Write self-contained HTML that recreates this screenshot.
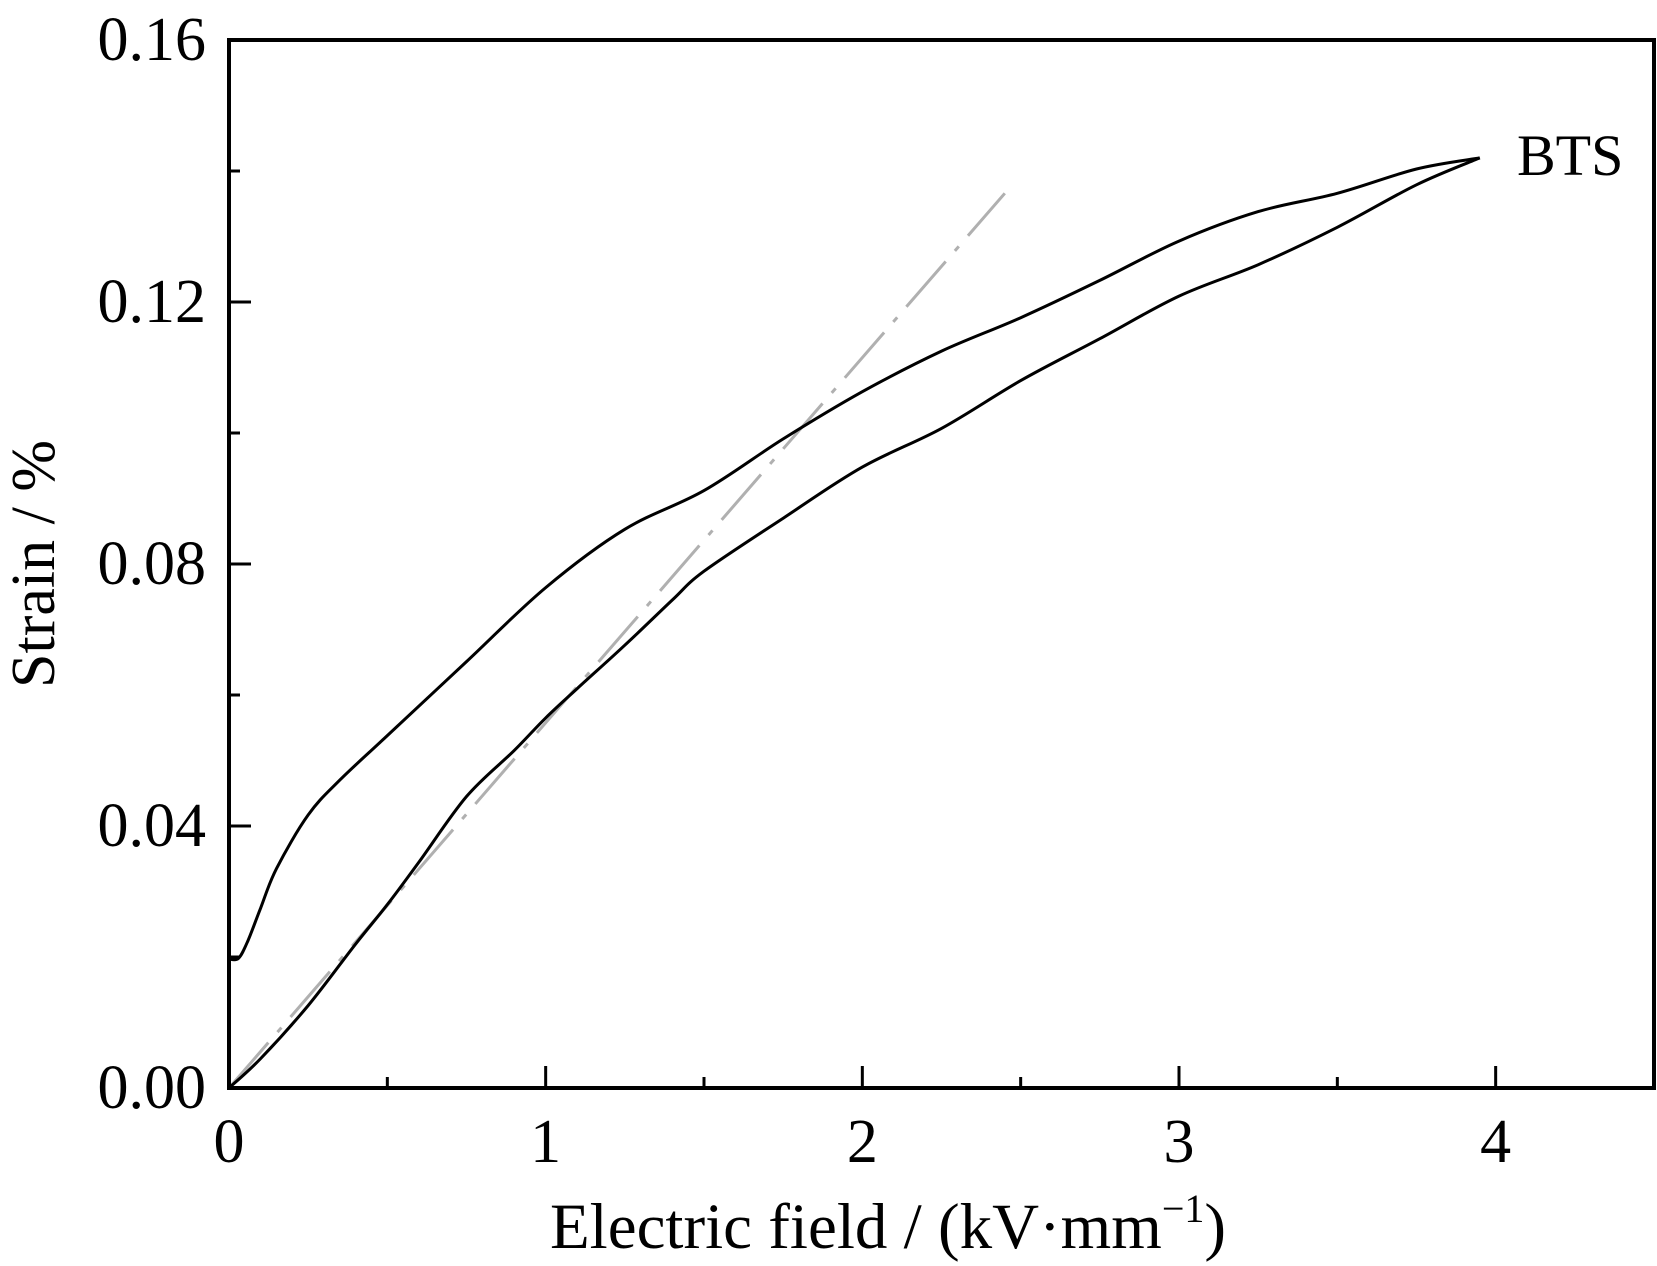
<!DOCTYPE html>
<html><head><meta charset="utf-8"><style>
html,body{margin:0;padding:0;background:#fff;}
svg{display:block;font-family:"Liberation Serif","Times New Roman",serif;}
</style></head><body>
<svg id="chart" width="1657" height="1266" viewBox="0 0 1657 1266" xmlns="http://www.w3.org/2000/svg">
<g id="plot"></g>
<text x="1517" y="175" font-size="58">BTS</text>
<text x="888" y="1248" font-size="65" text-anchor="middle">Electric field / (kV·mm<tspan dy="-26" font-size="40">−1</tspan><tspan dy="26">)</tspan></text>
<text transform="translate(54,564) rotate(-90)" font-size="62" text-anchor="middle">Strain / %</text>
</svg>
<script>
const xTicks=[0,1,2,3,4];
const xTickLabels=["0","1","2","3","4"];
const yTicks=[0,0.04,0.08,0.12,0.16];
const yTickLabels=["0.00","0.04","0.08","0.12","0.16"];
const riseE=[0,0.1,0.25,0.4,0.5,0.6,0.75,0.9,1,1.1,1.25,1.4,1.5,1.75,2,2.25,2.5,2.75,3,3.25,3.5,3.75,3.95];
const riseS=[0,0.0045,0.0126,0.022,0.028,0.0345,0.0445,0.0515,0.0565,0.061,0.0676,0.0745,0.0789,0.087,0.0948,0.1007,0.108,0.1144,0.1209,0.1257,0.1314,0.1379,0.142];
const fallE=[0,0.03,0.06,0.1,0.15,0.25,0.35,0.5,0.75,1,1.25,1.5,1.75,2,2.25,2.5,2.75,3,3.25,3.5,3.75,3.95];
const fallS=[0.0197,0.0198,0.0225,0.0275,0.0335,0.0417,0.047,0.0538,0.0651,0.0764,0.0853,0.0912,0.0991,0.1063,0.1125,0.1176,0.1233,0.1293,0.1338,0.1366,0.1403,0.142];
const fitE=[0,2.45];
const fitS=[0,0.1366];
const L=229,R=1654,T=40,B=1088,XMAX=4.5,YMAX=0.16;
const xs=v=>L+(v/XMAX)*(R-L);
const ys=v=>B-(v/YMAX)*(B-T);
const NS="http://www.w3.org/2000/svg";
const g=document.getElementById('plot');
function mk(t,a){const e=document.createElementNS(NS,t);for(const k in a)e.setAttribute(k,a[k]);g.appendChild(e);return e;}
function path(E,S){return E.map((e,i)=>(i?'L':'M')+xs(e).toFixed(1)+' '+ys(S[i]).toFixed(1)).join(' ');}
function smooth(E,S){const P=E.map((e,i)=>[xs(e),ys(S[i])]);let d='M'+P[0][0].toFixed(1)+' '+P[0][1].toFixed(1);
 for(let i=0;i<P.length-1;i++){const p0=P[Math.max(0,i-1)],p1=P[i],p2=P[i+1],p3=P[Math.min(P.length-1,i+2)];
  const c1=[p1[0]+(p2[0]-p0[0])/6,p1[1]+(p2[1]-p0[1])/6],c2=[p2[0]-(p3[0]-p1[0])/6,p2[1]-(p3[1]-p1[1])/6];
  d+=' C'+c1.map(v=>v.toFixed(1)).join(' ')+' '+c2.map(v=>v.toFixed(1)).join(' ')+' '+p2[0].toFixed(1)+' '+p2[1].toFixed(1);}
 return d;}
let f=mk('path',{d:path(fitE,fitS),fill:'none',stroke:'#b0b0b0','stroke-width':3,'stroke-dasharray':'60 14 6 14'});


let r=mk('path',{d:smooth(riseE,riseS),fill:'none',stroke:'#000','stroke-width':3,'stroke-linejoin':'round'});


let d=mk('path',{d:smooth(fallE,fallS),fill:'none',stroke:'#000','stroke-width':3,'stroke-linejoin':'round'});


let fr=mk('rect',{x:L,y:T,width:R-L,height:B-T,fill:'none',stroke:'#000','stroke-width':4});


for(let v=0;v<=XMAX+1e-9;v+=0.5){const major=Math.abs(v-Math.round(v))<1e-9;const x=xs(v);
 let t=mk('line',{x1:x,x2:x,y1:B,y2:B-(major?22:11),stroke:'#000','stroke-width':3});
 
 }
xTicks.forEach((v,i)=>{let t=mk('text',{x:xs(v),y:1162,'font-size':62,'text-anchor':'middle'});t.textContent=xTickLabels[i];
 
 });
for(let v=0;v<=YMAX+1e-9;v+=0.02){const major=Math.abs(v/0.04-Math.round(v/0.04))<1e-6;const y=ys(v);
 let t=mk('line',{x1:L,x2:L+(major?22:11),y1:y,y2:y,stroke:'#000','stroke-width':3});
 
 }
yTicks.forEach((v,i)=>{let t=mk('text',{x:206,y:ys(v)+20,'font-size':62,'text-anchor':'end'});t.textContent=yTickLabels[i];
 
 });
</script>
</body></html>
